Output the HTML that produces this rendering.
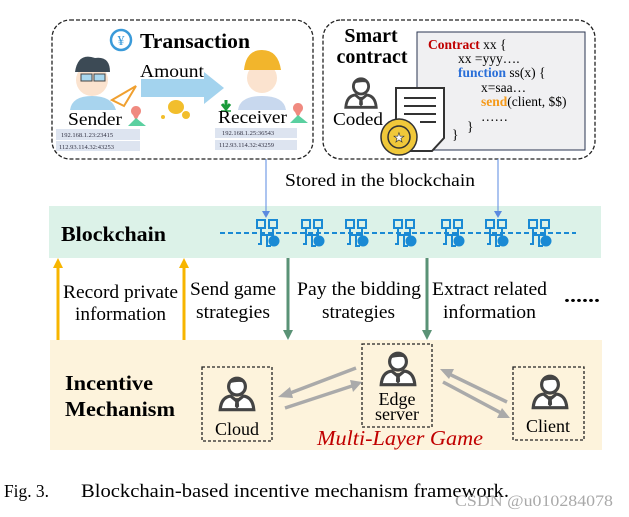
<!DOCTYPE html>
<html><head><meta charset="utf-8"><style>
html,body{margin:0;padding:0;background:#fff;width:629px;height:517px;overflow:hidden}
svg{display:block}
text{font-family:"Liberation Serif",serif}
</style></head><body>
<svg width="629" height="517" viewBox="0 0 629 517" xmlns="http://www.w3.org/2000/svg">
<defs>
<g id="person">
  <circle cx="0" cy="-8" r="8" fill="#fff" stroke="#444" stroke-width="3"/>
  <path d="M-8,-11 Q0,-20 8,-11 Q4,-14 -8,-11Z" fill="#444"/>
  <path d="M-16,14 Q-15,2 -6,1 L0,6 L6,1 Q15,2 16,14 Z" fill="#fff" stroke="#444" stroke-width="3"/>
  <path d="M-1.5,3 L1.5,3 L2,11 L0,13 L-2,11Z" fill="#444"/>
</g>
<g id="blk">
  <rect x="-11" y="-14" width="8" height="8" fill="none" stroke="#1a8ad4" stroke-width="2"/>
  <rect x="1" y="-14" width="8" height="8" fill="none" stroke="#1a8ad4" stroke-width="2"/>
  <path d="M-7,-6 V1 H5 V-6 M-7,1 V10 H-10 M-1,1 V12 H3" fill="none" stroke="#1a8ad4" stroke-width="2"/>
  <circle cx="6" cy="7" r="5.5" fill="#1a8ad4"/>
</g>
</defs>

<rect x="52" y="20" width="261" height="139" rx="18" fill="#fff" stroke="#222" stroke-width="1.3" stroke-dasharray="4,2"/>
<circle cx="121" cy="40" r="10" fill="none" stroke="#3a9ad9" stroke-width="2.5"/>
<text x="121" y="45" font-size="14" fill="#3a9ad9" text-anchor="middle">¥</text>
<text x="140" y="48" font-size="21" font-weight="bold" textLength="110" lengthAdjust="spacingAndGlyphs">Transaction</text>
<circle cx="92" cy="80" r="16" fill="#fbe3cf"/>
<path d="M75,72 Q78,52 95,58 Q110,56 110,72 Z" fill="#3c4a55"/>
<rect x="81" y="74" width="11" height="7" fill="#a9d8ef" stroke="#444"/><rect x="94" y="74" width="11" height="7" fill="#a9d8ef" stroke="#444"/>
<path d="M70,110 Q72,96 92,96 Q112,96 116,110 Z" fill="#a8d4ee"/>
<path d="M112,100 L136,86 L124,106 Z" fill="none" stroke="#f0a030" stroke-width="2"/>
<text x="68" y="125" font-size="18" textLength="54" lengthAdjust="spacingAndGlyphs">Sender</text>
<path d="M133,115 a5,5 0 1 1 6,0 L136,121Z" fill="#f08a80"/>
<path d="M128,126 L136,118 L146,126Z" fill="#5ad0a0"/>
<rect x="56" y="129" width="84" height="11" fill="#dde4f0"/>
<rect x="56" y="141" width="84" height="10" fill="#dde4f0"/>
<text x="61" y="137" font-size="6.5" font-family="Liberation Mono,monospace" fill="#334">192.168.1.23:23415</text>
<text x="59" y="149" font-size="6.5" font-family="Liberation Mono,monospace" fill="#334">112.93.114.32:43253</text>
<path d="M141,79 L204,79 L204,72 L224,88 L204,104 L204,97 L141,97 Z" fill="#a3d3ee"/>
<text x="140" y="77" font-size="18" textLength="64" lengthAdjust="spacingAndGlyphs">Amount</text>
<ellipse cx="176" cy="107" rx="8" ry="7" fill="#f2be2c"/><circle cx="186" cy="115" r="4" fill="#f2be2c"/><circle cx="163" cy="117" r="2" fill="#f2be2c"/>
<path d="M226,100 V108 M222,104 L226,109 L230,104" stroke="#1a9a3a" stroke-width="3" fill="none"/><line x1="221" y1="111" x2="231" y2="111" stroke="#1a9a3a" stroke-width="1.5"/>
<circle cx="262" cy="78" r="15" fill="#fbe3cf"/>
<path d="M244,70 Q246,50 262,50 Q278,50 281,70 Z" fill="#f2b52c"/>
<path d="M238,110 Q240,96 262,96 Q284,96 286,110 Z" fill="#c8d8ee"/>
<text x="218" y="123" font-size="18" textLength="69" lengthAdjust="spacingAndGlyphs">Receiver</text>
<path d="M295,112 a5,5 0 1 1 6,0 L298,118Z" fill="#f08a80"/>
<path d="M290,123 L298,115 L308,123Z" fill="#5ad0a0"/>
<rect x="215" y="128" width="82" height="10" fill="#dde4f0"/>
<rect x="215" y="140" width="82" height="10" fill="#dde4f0"/>
<text x="222" y="135" font-size="6.5" font-family="Liberation Mono,monospace" fill="#334">192.168.1.25:36543</text>
<text x="219" y="147" font-size="6.5" font-family="Liberation Mono,monospace" fill="#334">112.93.114.32:43259</text>

<rect x="323" y="20" width="272" height="139" rx="18" fill="#fff" stroke="#222" stroke-width="1.3" stroke-dasharray="4,2"/>
<text x="371" y="42" font-size="20" font-weight="bold" text-anchor="middle">Smart</text>
<text x="372" y="63" font-size="20" font-weight="bold" text-anchor="middle">contract</text>
<rect x="417" y="32" width="168" height="118" fill="#f0f0f2" stroke="#2a3550" stroke-width="1"/>
<g font-size="13.5">
<text x="428" y="49"><tspan fill="#c00000" font-weight="bold">Contract</tspan> xx {</text>
<text x="458" y="63">xx =yyy….</text>
<text x="458" y="77"><tspan fill="#2a6fd8" font-weight="bold">function</tspan> ss(x) {</text>
<text x="481" y="92">x=saa…</text>
<text x="481" y="106"><tspan fill="#f59a1a" font-weight="bold">send</tspan>(client, $$)</text>
<text x="481" y="121">……</text>
<text x="467" y="131">}</text>
<text x="452" y="139">}</text>
</g>
<g transform="translate(361,94) scale(0.95)"><use href="#person"/></g>
<text x="333" y="125" font-size="18" textLength="50" lengthAdjust="spacingAndGlyphs">Coded</text>
<path d="M396,88 H444 V138 L432,151 H396 Z" fill="#fff" stroke="#333" stroke-width="2"/>
<path d="M404,98 H436 M404,106 H436 M404,114 H436 M420,122 H436" stroke="#333" stroke-width="2"/>
<circle cx="399" cy="137" r="18" fill="#f0c83a" stroke="#333" stroke-width="1.5"/>
<circle cx="399" cy="137" r="11" fill="none" stroke="#333" stroke-width="1.5"/>
<text x="399" y="142" font-size="13" text-anchor="middle" fill="#fff" stroke="#333" stroke-width="0.6">★</text>

<line x1="266" y1="159" x2="266" y2="214" stroke="#5a8ae0" stroke-width="1"/>
<line x1="498" y1="159" x2="498" y2="214" stroke="#5a8ae0" stroke-width="1"/>
<text x="285" y="186" font-size="18" textLength="190" lengthAdjust="spacingAndGlyphs">Stored in the blockchain</text>

<rect x="49" y="206" width="552" height="52" fill="#dcf2e8"/>
<text x="61" y="241" font-size="21" font-weight="bold" textLength="105" lengthAdjust="spacingAndGlyphs">Blockchain</text>
<line x1="220" y1="233" x2="576" y2="233" stroke="#1a8ad4" stroke-width="2" stroke-dasharray="5,3"/>
<use href="#blk" x="268" y="234"/><use href="#blk" x="313" y="234"/><use href="#blk" x="357" y="234"/>
<use href="#blk" x="405" y="234"/><use href="#blk" x="453" y="234"/><use href="#blk" x="497" y="234"/><use href="#blk" x="540" y="234"/>
<line x1="266" y1="206" x2="266" y2="214" stroke="#5a8ae0"/><path d="M262,211 L266,218 L270,211Z" fill="#5a8ae0"/>
<line x1="498" y1="206" x2="498" y2="214" stroke="#5a8ae0"/><path d="M494,211 L498,218 L502,211Z" fill="#5a8ae0"/>

<rect x="50" y="340" width="552" height="110" fill="#fdf3dc"/>

<line x1="58" y1="340" x2="58" y2="266" stroke="#f7b500" stroke-width="3"/>
<path d="M53,268 L58,258 L63,268Z" fill="#f7b500"/>
<line x1="184" y1="340" x2="184" y2="266" stroke="#f7b500" stroke-width="3"/>
<path d="M179,268 L184,258 L189,268Z" fill="#f7b500"/>
<line x1="288" y1="258" x2="288" y2="332" stroke="#5a9276" stroke-width="3"/>
<path d="M283,330 L288,340 L293,330Z" fill="#5a9276"/>
<line x1="427" y1="258" x2="427" y2="332" stroke="#5a9276" stroke-width="3"/>
<path d="M422,330 L427,340 L432,330Z" fill="#5a9276"/>

<g font-size="19">
<text x="63" y="298" textLength="115" lengthAdjust="spacingAndGlyphs">Record private</text>
<text x="75" y="320" textLength="91" lengthAdjust="spacingAndGlyphs">information</text>
<text x="190" y="295" textLength="86" lengthAdjust="spacingAndGlyphs">Send game</text>
<text x="196" y="318" textLength="74" lengthAdjust="spacingAndGlyphs">strategies</text>
<text x="297" y="295" textLength="124" lengthAdjust="spacingAndGlyphs">Pay the bidding</text>
<text x="322" y="318" textLength="73" lengthAdjust="spacingAndGlyphs">strategies</text>
<text x="432" y="295" textLength="115" lengthAdjust="spacingAndGlyphs">Extract related</text>
<text x="443" y="318" textLength="93" lengthAdjust="spacingAndGlyphs">information</text>
<text x="564" y="302" font-weight="bold" textLength="36" lengthAdjust="spacingAndGlyphs">......</text>
</g>

<text x="65" y="390" font-size="21" font-weight="bold" textLength="88" lengthAdjust="spacingAndGlyphs">Incentive</text>
<text x="65" y="416" font-size="21" font-weight="bold" textLength="110" lengthAdjust="spacingAndGlyphs">Mechanism</text>

<rect x="202" y="367" width="70" height="74" fill="none" stroke="#222" stroke-width="1.3" stroke-dasharray="3,2"/>
<g transform="translate(237,395) scale(1.05)"><use href="#person"/></g>
<text x="237" y="435" font-size="18" text-anchor="middle">Cloud</text>
<rect x="362" y="344" width="70" height="83" fill="none" stroke="#222" stroke-width="1.3" stroke-dasharray="3,2"/>
<g transform="translate(398,370) scale(1.05)"><use href="#person"/></g>
<text x="397" y="405" font-size="18" text-anchor="middle">Edge</text>
<text x="397" y="420" font-size="18" text-anchor="middle">server</text>
<rect x="513" y="367" width="71" height="73" fill="none" stroke="#222" stroke-width="1.3" stroke-dasharray="3,2"/>
<g transform="translate(550,393) scale(1.05)"><use href="#person"/></g>
<text x="548" y="432" font-size="18" text-anchor="middle">Client</text>

<g stroke="#aaa" stroke-width="3.5" fill="#aaa">
<line x1="356" y1="368" x2="285" y2="395"/><path d="M278,397 L290,387 L293,398Z" stroke="none"/>
<line x1="285" y1="408" x2="355" y2="385"/><path d="M362,382 L350,380 L353,392Z" stroke="none"/>
<line x1="507" y1="402" x2="447" y2="373"/><path d="M440,369 L449,379 L454,369Z" stroke="none"/>
<line x1="443" y1="382" x2="503" y2="414"/><path d="M510,418 L502,408 L497,418Z" stroke="none"/>
</g>
<text x="317" y="445" font-size="21" font-style="italic" fill="#c00000" textLength="166" lengthAdjust="spacingAndGlyphs">Multi-Layer Game</text>

<text x="4" y="497" font-size="18" textLength="45" lengthAdjust="spacingAndGlyphs">Fig. 3.</text>
<text x="81" y="497" font-size="19" textLength="428" lengthAdjust="spacingAndGlyphs">Blockchain-based  incentive  mechanism  framework.</text>
<text x="455" y="506" font-size="16" font-family="Liberation Sans,sans-serif" fill="#9a9a9a" fill-opacity="0.85" textLength="158" lengthAdjust="spacingAndGlyphs">CSDN @u010284078</text>
</svg>
</body></html>
